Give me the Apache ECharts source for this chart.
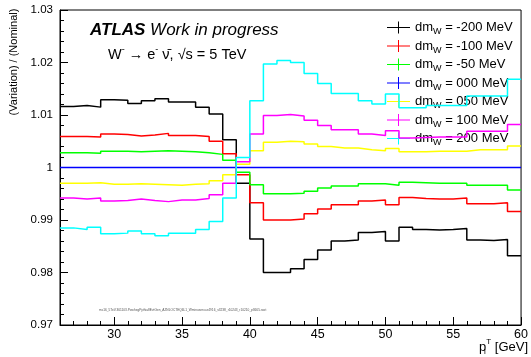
<!DOCTYPE html>
<html>
<head>
<meta charset="utf-8">
<script src="https://cdn.jsdelivr.net/npm/echarts@6/dist/echarts.min.js"></script>
<style>
  html, body { margin: 0; padding: 0; background: #fff; }
  #chart { width: 531px; height: 357px; }
</style>
</head>
<body>
<div id="chart"></div>
<script>
// bin low edges (GeV), last edge closes the histogram
const binEdges = [26, 27, 28, 29, 30, 31, 32, 33, 34, 35, 36, 37, 38, 39, 40, 41, 42,
    43, 44, 45, 46, 47, 48, 49, 50, 51, 52, 53, 54, 55, 56, 57, 58, 59];
const lastEdge = 60;

// ratio (variation / nominal) per bin
const dm_m200 = [1.0116, 1.0118, 1.0115, 1.0129, 1.0128, 1.0122, 1.0127, 1.0131, 1.0125, 1.0125, 1.0115, 1.0102,
    1.0053, 0.9970, 0.9864, 0.9800, 0.9800, 0.9807, 0.9825, 0.9843, 0.9860, 0.9862, 0.9876, 0.9878, 0.9860,
    0.9886, 0.9882, 0.9881, 0.9882, 0.9884, 0.9862, 0.9861, 0.9863, 0.9832];
const dm_m100 = [1.0059, 1.0059, 1.0058, 1.0064, 1.0063, 1.0060, 1.0062, 1.0065, 1.0061, 1.0061, 1.0059, 1.0050,
    1.0026, 0.9986, 0.9933, 0.9900, 0.9900, 0.9902, 0.9912, 0.9921, 0.9929, 0.9929, 0.9936, 0.9938, 0.9929,
    0.9943, 0.9941, 0.9940, 0.9940, 0.9942, 0.9931, 0.9931, 0.9933, 0.9916];
const dm_m50 = [1.0028, 1.0028, 1.0027, 1.0031, 1.0031, 1.0030, 1.0031, 1.0032, 1.0031, 1.0030, 1.0028, 1.0025,
    1.0014, 0.9991, 0.9967, 0.9950, 0.9950, 0.9951, 0.9955, 0.9961, 0.9965, 0.9965, 0.9969, 0.9969, 0.9966,
    0.9972, 0.9971, 0.9970, 0.9970, 0.9970, 0.9966, 0.9966, 0.9966, 0.9957];
const dm_000 = [1, 1, 1, 1, 1, 1, 1, 1, 1, 1, 1, 1, 1, 1, 1, 1, 1,
    1, 1, 1, 1, 1, 1, 1, 1, 1, 1, 1, 1, 1, 1, 1, 1, 1];
const dm_p50 = [0.9970, 0.9970, 0.9971, 0.9968, 0.9968, 0.9969, 0.9968, 0.9967, 0.9966, 0.9968, 0.9969, 0.9975,
    0.9986, 1.0006, 1.0032, 1.0048, 1.0050, 1.0049, 1.0045, 1.0040, 1.0037, 1.0037, 1.0034, 1.0032, 1.0036,
    1.0030, 1.0030, 1.0031, 1.0031, 1.0031, 1.0034, 1.0034, 1.0034, 1.0041];
const dm_p100 = [0.9942, 0.9940, 0.9942, 0.9936, 0.9937, 0.9940, 0.9937, 0.9935, 0.9938, 0.9938, 0.9941, 0.9948,
    0.9970, 1.0011, 1.0064, 1.0099, 1.0101, 1.0098, 1.0090, 1.0080, 1.0072, 1.0072, 1.0064, 1.0061, 1.0070,
    1.0056, 1.0057, 1.0058, 1.0058, 1.0058, 1.0069, 1.0069, 1.0069, 1.0082];
const dm_p200 = [0.9885, 0.9882, 0.9886, 0.9874, 0.9875, 0.9879, 0.9874, 0.9870, 0.9875, 0.9875, 0.9882, 0.9897,
    0.9942, 1.0019, 1.0127, 1.0197, 1.0204, 1.0200, 1.0179, 1.0160, 1.0141, 1.0141, 1.0127, 1.0121, 1.0140,
    1.0114, 1.0114, 1.0118, 1.0118, 1.0118, 1.0136, 1.0136, 1.0136, 1.0168];

const shiftLabels = ["-200", "-100", "-50", "000", "050", "100", "200"];
const shiftValues = [dm_m200, dm_m100, dm_m50, dm_000, dm_p50, dm_p100, dm_p200];
const shiftColors = ["#000000", "#ff0000", "#00ff00", "#0000ff", "#ffff00", "#ff00ff", "#00ffff"];

// axis ticks
const xMajorTicks = [30, 35, 40, 45, 50, 55, 60];
const xMinorTicks = [27, 28, 29, 31, 32, 33, 34, 36, 37, 38, 39, 41, 42, 43, 44, 46, 47, 48, 49,
    51, 52, 53, 54, 56, 57, 58, 59];
const yMajorTicks = [0.97, 0.98, 0.99, 1, 1.01, 1.02, 1.03];
const yMinorTicks = [0.972, 0.974, 0.976, 0.978, 0.982, 0.984, 0.986, 0.988, 0.992, 0.994, 0.996, 0.998,
    1.002, 1.004, 1.006, 1.008, 1.012, 1.014, 1.016, 1.018, 1.022, 1.024, 1.026, 1.028];

const FONT = "Liberation Sans";
let chart = echarts.init(document.getElementById("chart"), null, { renderer: "canvas" });

// histogram outline: one point per low edge + closing point
function histPoints(values) {
    let pts = binEdges.map(function (x, i) { return [x, values[i]]; });
    pts.push([lastEdge, values[values.length - 1]]);
    return pts;
}

let seriesList = shiftLabels.map(function (lab, i) {
    return {
        name: "dm_W = " + lab + " MeV",
        type: "line",
        step: "end",
        symbol: "none",
        xAxisIndex: 0,
        yAxisIndex: 0,
        color: shiftColors[i],
        lineStyle: { width: 1.5, color: shiftColors[i] },
        data: histPoints(shiftValues[i]),
        z: 2 + i,
    };
});

const commonX = { type: "value", min: 26, max: 60, gridIndex: 0, position: "bottom", splitLine: { show: false } };
const commonY = { type: "value", min: 0.97, max: 1.03, gridIndex: 0, position: "left", splitLine: { show: false } };

chart.setOption({
    animation: false,
    backgroundColor: "#ffffff",
    textStyle: { fontFamily: FONT },
    grid: { left: 60, top: 10, width: 463, height: 315, show: true, borderColor: "#000", borderWidth: 1, backgroundColor: "transparent" },
    xAxis: [
        Object.assign({}, commonX, {
            axisLine: { lineStyle: { color: "#000", width: 1 } },
            axisTick: { inside: true, length: 8, customValues: xMajorTicks, lineStyle: { color: "#000" } },
            axisLabel: { customValues: xMajorTicks, color: "#000", fontSize: 12.5, margin: 3, fontFamily: FONT },
        }),
        Object.assign({}, commonX, {
            axisLine: { show: false },
            axisTick: { inside: true, length: 4, customValues: xMinorTicks, lineStyle: { color: "#000" } },
            axisLabel: { show: false },
        }),
    ],
    yAxis: [
        Object.assign({}, commonY, {
            axisLine: { lineStyle: { color: "#000", width: 1 } },
            axisTick: { inside: true, length: 8, customValues: yMajorTicks, lineStyle: { color: "#000" } },
            axisLabel: {
                customValues: yMajorTicks, color: "#000", fontSize: 11.5, margin: 7, fontFamily: FONT,
                formatter: function (v) { return Math.abs(v - 1) < 1e-9 ? "1" : v.toFixed(2); },
            },
        }),
        Object.assign({}, commonY, {
            axisLine: { show: false },
            axisTick: { inside: true, length: 4, customValues: yMinorTicks, lineStyle: { color: "#000" } },
            axisLabel: { show: false },
        }),
    ],
    legend: {
        orient: "vertical",
        left: 382,
        top: 16,
        itemWidth: 23,
        itemHeight: 12,
        itemGap: 3,
        icon: "path://M0,5.5h23v1h-23z M11,0h1v12h-1z",
        data: seriesList.map(function (s) { return s.name; }),
        formatter: function (name) {
            return "{a|dm}{s|W}{a|" + name.replace("dm_W", "") + "}";
        },
        textStyle: {
            padding: [0, 0, 0, 0],
            rich: {
                a: { fontSize: 13, color: "#000", fontFamily: FONT, lineHeight: 18 },
                s: { fontSize: 9, color: "#000", fontFamily: FONT, lineHeight: 9, verticalAlign: "bottom" },
            },
        },
    },
    graphic: [
        {
            type: "text", left: 90, top: 22, z: 10,
            style: {
                text: "{b|ATLAS}{i| Work in progress}",
                rich: {
                    b: { fontSize: 17, fontWeight: "bold", fontStyle: "italic", fontFamily: FONT, fill: "#000" },
                    i: { fontSize: 17, fontStyle: "italic", fontFamily: FONT, fill: "#000" },
                },
            },
        },
        {
            type: "text", left: 108, top: 45, z: 10,
            style: {
                text: "{t|W}{u|-}{t| \u2192 e}{u|-}{t| \u03bd\u0304, \u221as = 5 TeV}",
                rich: {
                    t: { fontSize: 14.5, fontFamily: FONT, fill: "#000", lineHeight: 20 },
                    u: { fontSize: 9, fontFamily: FONT, fill: "#000", lineHeight: 9, verticalAlign: "top" },
                },
            },
        },
        {
            type: "text", x: 14, y: 62, rotation: Math.PI / 2, z: 10,
            style: { text: "(Variation) / (Nominal)", fontSize: 11, fontFamily: FONT, fill: "#000", align: "center", verticalAlign: "middle" },
        },
        {
            type: "text", x: 528, y: 347, z: 10,
            style: {
                text: "{t|p}{u|T}{t| [GeV]}", align: "right", verticalAlign: "middle",
                rich: {
                    t: { fontSize: 13, fontFamily: FONT, fill: "#000", lineHeight: 18 },
                    u: { fontSize: 8, fontFamily: FONT, fill: "#000", lineHeight: 8, verticalAlign: "top" },
                },
            },
        },
        {
            type: "text", x: 484, y: 352, z: 10,
            style: { text: "l", fontSize: 8, fontFamily: FONT, fill: "#000", verticalAlign: "middle" },
        },
        {
            type: "text", x: 99, y: 310, z: 10,
            style: {
                text: "mc16_5TeV.361103.PowhegPythia8EvtGen_AZNLOCTEQ6L1_Wminusenu.e4916_s3238_r10243_r10210_p3665.root",
                fontSize: 3.2, fontFamily: FONT, fill: "#555", verticalAlign: "middle",
            },
        },
    ],
    series: seriesList,
});

window.onresize = function () {
    chart.resize();
};
</script>
</body>
</html>
